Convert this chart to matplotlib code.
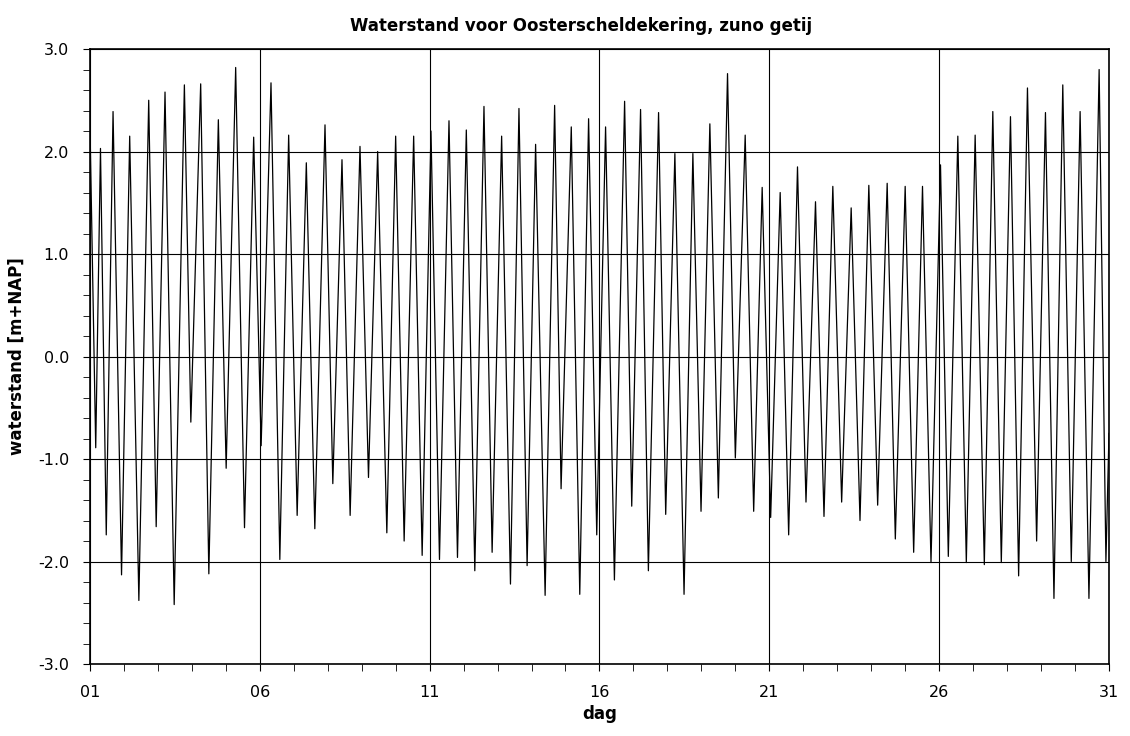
import numpy as np
import matplotlib
matplotlib.use("Agg")
import matplotlib.pyplot as plt
from matplotlib.ticker import MultipleLocator, FixedLocator

# high and low water: time (day of month) and level [m+NAP]
days = [1.00, 1.17, 1.31, 1.48, 1.68, 1.93, 2.17, 2.44, 2.73, 2.95,
        3.21, 3.48, 3.78, 3.97, 4.26, 4.50, 4.78, 5.01, 5.29, 5.55,
        5.82, 6.04, 6.33, 6.59, 6.85, 7.10, 7.37, 7.62, 7.92, 8.15,
        8.42, 8.66, 8.95, 9.20, 9.47, 9.74, 10.00, 10.25, 10.53, 10.78,
        11.04, 11.29, 11.57, 11.82, 12.08, 12.33, 12.60, 12.84, 13.12, 13.38,
        13.63, 13.87, 14.12, 14.40, 14.68, 14.87, 15.17, 15.42, 15.68, 15.92,
        16.18, 16.44, 16.74, 16.95, 17.21, 17.44, 17.74, 17.95, 18.22, 18.49,
        18.75, 18.99, 19.25, 19.50, 19.77, 20.00, 20.29, 20.54, 20.79, 21.04,
        21.32, 21.57, 21.83, 22.08, 22.36, 22.61, 22.87, 23.13, 23.41, 23.67,
        23.93, 24.19, 24.47, 24.71, 25.00, 25.25, 25.51, 25.76, 26.04, 26.27,
        26.55, 26.80, 27.06, 27.33, 27.58, 27.83, 28.10, 28.34, 28.60, 28.87,
        29.13, 29.38, 29.64, 29.89, 30.15, 30.41, 30.71, 30.91, 31.00]
level = [2.27, -0.89, 2.03, -1.74, 2.39, -2.13, 2.15, -2.38, 2.50, -1.66,
         2.58, -2.42, 2.65, -0.64, 2.66, -2.12, 2.31, -1.09, 2.82, -1.67,
         2.14, -0.87, 2.67, -1.98, 2.16, -1.55, 1.89, -1.68, 2.26, -1.24,
         1.92, -1.55, 2.05, -1.18, 2.00, -1.72, 2.15, -1.80, 2.15, -1.94,
         2.20, -1.98, 2.30, -1.96, 2.21, -2.09, 2.44, -1.91, 2.15, -2.22,
         2.42, -2.04, 2.07, -2.33, 2.45, -1.29, 2.24, -2.32, 2.32, -1.74,
         2.24, -2.18, 2.49, -1.46, 2.41, -2.09, 2.38, -1.54, 1.98, -2.32,
         1.98, -1.51, 2.27, -1.38, 2.76, -0.99, 2.16, -1.51, 1.65, -1.57,
         1.60, -1.74, 1.85, -1.42, 1.51, -1.56, 1.66, -1.42, 1.45, -1.60,
         1.67, -1.45, 1.69, -1.78, 1.66, -1.91, 1.66, -2.01, 1.87, -1.95,
         2.15, -2.01, 2.16, -2.03, 2.39, -2.01, 2.34, -2.14, 2.62, -1.80,
         2.38, -2.36, 2.65, -2.00, 2.39, -2.36, 2.80, -2.00, -0.75]

xticks = [1, 6, 11, 16, 21, 26, 31]
xticklabels = ["01", "06", "11", "16", "21", "26", "31"]
yticks = [-3, -2, -1, 0, 1, 2, 3]

fig = plt.figure(figsize=(11.3, 7.36), dpi=100)
ax = fig.add_axes([0.0796, 0.0978, 0.9018, 0.8356])

ax.plot(days, level, color="black", lw=0.9)

ax.set_xlim(1, 31)
ax.set_ylim(-3, 3)
ax.xaxis.set_major_locator(FixedLocator(xticks))
ax.set_xticklabels(xticklabels)
ax.xaxis.set_minor_locator(MultipleLocator(1))
ax.set_yticks(yticks)
ax.set_yticklabels([f"{v:.1f}" for v in yticks])
ax.yaxis.set_minor_locator(MultipleLocator(0.2))

ax.tick_params(which="both", direction="out", color="black", length=5, labelsize=11.5)
ax.tick_params(axis="x", pad=10)
ax.tick_params(axis="y", pad=10)
ax.grid(True, which="major", color="black", lw=0.8)
for s in ax.spines.values():
    s.set_color("black")
    s.set_linewidth(1.2)

fig.text(0.514, 0.965, "Waterstand voor Oosterscheldekering, zuno getij",
         fontsize=12, fontweight="bold", ha="center", va="center")
ax.set_xlabel("dag", fontsize=12, fontweight="bold")
ax.xaxis.set_label_coords(0.5, -0.066)
ax.set_ylabel("waterstand [m+NAP]", fontsize=12, fontweight="bold")
ax.yaxis.set_label_coords(-0.063, 0.5)

fig.savefig("out.png", dpi=100)
